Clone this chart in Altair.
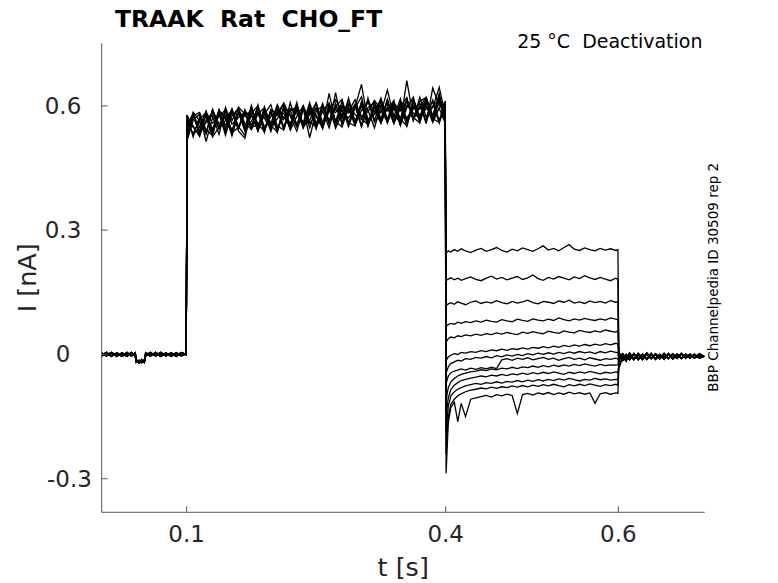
import altair as alt
import pandas as pd

# ---------------- data (currents in pA) ----------------
t_pre = [0.0015, 0.007, 0.013, 0.019, 0.025, 0.031, 0.036, 0.0405, 0.0415, 0.045, 0.048,
         0.051, 0.0525, 0.058, 0.064, 0.070, 0.076, 0.082, 0.088, 0.094, 0.0995]
pre_a = [4, -4, 3, -5, 4, -3, 5, -4, -16, -21, -13, -19, -4, 4, -3, 5, -4, 3, -5, 4, 0]
pre_b = [-4, 3, -5, 4, -3, 5, -4, 3, -12, -18, -15, -20, 3, -4, 5, -3, 4, -5, 3, -4, 2]
pre_c = [3, -2, 5, -3, 2, -5, 4, -2, -19, -14, -20, -13, -2, 5, -4, 2, -3, 4, -2, 5, -1]
pre_d = [-2, 5, -3, 2, -5, 3, -3, 4, -14, -20, -12, -17, 4, -2, 3, -5, 2, -3, 4, -2, 1]

t_step = [0.1005, 0.1075, 0.115, 0.1225, 0.130, 0.1375, 0.145, 0.1525, 0.160, 0.1675,
          0.175, 0.1825, 0.190, 0.1975, 0.205, 0.2125, 0.220, 0.2275, 0.235, 0.2425,
          0.250, 0.2575, 0.265, 0.2725, 0.280, 0.2875, 0.295, 0.3025, 0.310, 0.3175,
          0.325, 0.3325, 0.340, 0.3475, 0.355, 0.3625, 0.370, 0.3775, 0.385, 0.3925, 0.3995]
step_1 = [578, 525, 574, 536, 592, 545, 589, 528, 584, 539,
          596, 549, 592, 538, 587, 545, 608, 554, 597, 547,
          596, 545, 606, 562, 611, 557, 603, 553, 619, 565,
          610, 558, 603, 553, 617, 567, 621, 572, 614, 564, 612]
step_2 = [528, 578, 539, 587, 532, 581, 529, 588, 547, 591,
          547, 602, 541, 586, 538, 596, 554, 605, 548, 589,
          544, 599, 560, 606, 555, 619, 562, 607, 551, 599,
          560, 616, 564, 605, 551, 614, 574, 619, 569, 623, 566]
step_3 = [568, 531, 548, 586, 536, 589, 567, 531, 584, 548,
          601, 542, 578, 549, 596, 543, 588, 597, 551, 564,
          607, 551, 630, 560, 599, 550, 596, 652, 562, 588,
          558, 611, 574, 617, 562, 609, 560, 616, 575, 630, 568]
step_4 = [521, 576, 584, 541, 529, 586, 552, 593, 539, 522,
          594, 556, 539, 590, 577, 603, 548, 590, 559, 608,
          558, 589, 547, 603, 570, 615, 560, 601, 554, 609,
          569, 615, 562, 598, 620, 564, 611, 620, 571, 614, 560]
step_5 = [574, 552, 526, 581, 537, 591, 536, 576, 594, 541,
          578, 540, 598, 553, 537, 597, 579, 551, 600, 562,
          549, 604, 562, 598, 616, 559, 552, 610, 568, 579,
          619, 566, 594, 559, 661, 572, 559, 612, 578, 617, 565]
step_6 = [516, 566, 580, 514, 571, 548, 588, 565, 595, 557,
          543, 581, 595, 557, 603, 567, 589, 549, 594, 523,
          587, 600, 565, 592, 574, 605, 579, 567, 611, 587,
          602, 569, 607, 588, 613, 582, 570, 607, 595, 645, 580]
step_7 = [560, 578, 530, 565, 584, 545, 565, 592, 550, 529,
          582, 600, 548, 574, 593, 549, 590, 596, 546, 581,
          607, 560, 593, 550, 598, 586, 615, 569, 555, 598,
          583, 638, 575, 562, 601, 615, 575, 600, 564, 596, 608]
step_8 = [542, 585, 563, 531, 590, 556, 577, 532, 581, 574,
          591, 539, 580, 603, 551, 542, 594, 582, 550, 599,
          546, 588, 607, 563, 549, 596, 558, 603, 590, 547,
          600, 588, 613, 555, 597, 594, 604, 557, 643, 601, 595]
step_9 = [561, 532, 567, 585, 558, 574, 591, 535, 548, 587,
          573, 583, 538, 591, 581, 607, 575, 539, 590, 578,
          594, 552, 586, 615, 588, 555, 601, 549, 596, 609,
          559, 594, 606, 568, 552, 600, 592, 614, 569, 560, 597]
step_10 = [535, 576, 550, 582, 538, 586, 543, 586, 545, 582,
           543, 587, 540, 589, 536, 599, 552, 608, 549, 590,
           551, 605, 556, 632, 558, 598, 556, 606, 552, 595,
           611, 561, 606, 569, 612, 566, 598, 621, 568, 609, 572]
step_11 = [577, 548, 531, 579, 543, 590, 570, 542, 582, 556,
           562, 595, 536, 586, 546, 574, 556, 591, 550, 597,
           574, 546, 599, 562, 590, 583, 603, 575, 586, 613,
           592, 560, 600, 553, 596, 621, 566, 602, 560, 594, 558]
step_12 = [519, 567, 558, 574, 525, 549, 577, 533, 597, 580,
           554, 583, 571, 542, 586, 582, 545, 600, 555, 602,
           553, 588, 604, 546, 582, 571, 594, 622, 557, 597,
           566, 596, 558, 594, 571, 592, 607, 563, 600, 615, 571]
step_13 = [550, 579, 535, 560, 577, 531, 596, 556, 572, 585,
           548, 554, 586, 545, 569, 592, 541, 574, 600, 557,
           578, 549, 592, 584, 601, 593, 553, 589, 612, 560,
           588, 603, 557, 609, 564, 598, 575, 593, 609, 558, 604]

t_tail = [0.4005, 0.403, 0.406, 0.410, 0.414, 0.418, 0.423, 0.429, 0.435, 0.441, 0.447,
          0.453, 0.459, 0.465, 0.471, 0.477, 0.483, 0.489, 0.495, 0.501, 0.507, 0.513,
          0.519, 0.525, 0.531, 0.537, 0.543, 0.549, 0.555, 0.561, 0.567, 0.573, 0.579,
          0.585, 0.591, 0.597, 0.5995]
tail_1 = [245, 250, 247, 253, 249, 255, 250, 246, 252, 256, 249, 253, 258, 251, 247, 254, 250,
          257, 253, 249, 255, 262, 252, 256, 250, 258, 265, 254, 251, 257, 253, 250, 256, 252,
          255, 251, 253]
tail_2 = [178, 182, 185, 180, 184, 179, 183, 187, 181, 178, 184, 189, 182, 186, 180, 184, 188,
          181, 185, 192, 183, 179, 186, 182, 188, 184, 180, 187, 183, 190, 185, 181, 186, 182,
          178, 184, 181]
tail_3 = [118, 122, 125, 121, 127, 124, 120, 126, 129, 123, 127, 124, 130, 125, 122, 128, 124,
          127, 131, 125, 122, 128, 126, 123, 129, 126, 131, 124, 127, 123, 129, 125, 128, 124,
          130, 126, 127]
tail_4 = [68, 72, 75, 73, 78, 75, 79, 77, 81, 78, 83, 80, 78, 84, 81, 79, 85, 82, 80, 86, 83,
          81, 85, 82, 88, 84, 81, 86, 83, 87, 84, 82, 86, 83, 88, 85, 84]
tail_5 = [30, 38, 42, 40, 45, 43, 47, 45, 49, 46, 50, 48, 52, 49, 53, 50, 48, 54, 51, 55, 52,
          50, 56, 53, 51, 57, 54, 52, 58, 55, 53, 57, 54, 59, 56, 54, 57]
tail_6 = [-15, -6, -2, 2, 0, 5, 3, 7, 5, 9, 7, 11, 9, 13, 10, 14, 12, 16, 13, 17, 15, 19, 16,
          20, 17, 22, 19, 23, 20, 24, 21, 25, 22, 26, 23, 27, 25]
tail_7 = [-45, -30, -22, -18, -14, -16, -10, -12, -7, -9, -5, -8, -3, -6, -1, -4, 0, -3, 2, -1,
          3, 0, 4, 1, 5, 2, 6, 3, 7, 4, 6, 2, 7, 4, 8, 5, 5]
tail_8 = [-70, -52, -44, -40, -38, -35, -38, -33, -36, -32, -35, -31, -34, -13, -10, -14, -9,
          -12, -8, -13, -10, -7, -12, -9, -14, -10, -7, -12, -9, -13, -8, -11, -14, -10, -12,
          -9, -11]
tail_9 = [-110, -80, -66, -58, -52, -48, -45, -42, -40, -37, -39, -35, -37, -33, -35, -31, -34,
          -30, -32, -28, -31, -27, -30, -26, -29, -25, -28, -24, -27, -23, -26, -28, -24, -27,
          -25, -26, -25]
tail_10 = [-150, -105, -85, -74, -68, -63, -60, -57, -55, -52, -54, -50, -52, -48, -51, -47,
           -49, -45, -48, -44, -47, -43, -46, -42, -45, -48, -43, -46, -42, -45, -41, -44, -47,
           -43, -45, -42, -44]
tail_11 = [-190, -125, -100, -90, -84, -80, -76, -73, -70, -72, -68, -70, -66, -69, -65, -67,
           -63, -66, -62, -65, -61, -64, -60, -63, -59, -62, -58, -61, -64, -60, -62, -58, -61,
           -59, -62, -60, -61]
tail_12 = [-240, -150, -120, -108, -100, -95, -90, -86, -84, -81, -83, -79, -82, -78, -80, -76,
           -79, -75, -78, -74, -77, -73, -76, -72, -75, -78, -73, -76, -72, -75, -71, -74, -77,
           -73, -75, -72, -74]
tail_13 = [-287, -165, -128, -115, -162, -118, -150, -108, -105, -102, -99, -103, -97, -100,
           -96, -99, -143, -97, -94, -98, -93, -96, -92, -97, -93, -96, -91, -95, -92, -96, -93,
           -118, -95, -92, -96, -93, -94]

t_post = [0.6005, 0.602, 0.605, 0.609, 0.613, 0.618, 0.623, 0.628, 0.633, 0.638, 0.643,
          0.648, 0.653, 0.658, 0.663, 0.668, 0.673, 0.678, 0.683, 0.688, 0.694, 0.6995]
post_a = [8, -6, 2, -9, 4, -10, 3, -8, 4, -9, 2, -7, 3, -9, 2, -8, 3, -7, 1, -8, 2, -5]
post_b = [-3, 1, -12, 0, -11, 2, -13, 1, -10, 3, -11, 0, -12, 2, -9, 1, -10, 0, -9, 1, -8, -4]
post_c = [-12, -3, -14, -1, -12, 2, -11, -1, -12, 1, -10, 0, -11, 2, -9, 0, -10, 1, -8, 0,
          -9, -4]
post_d = [-28, -20, -4, -14, 0, -12, -2, -13, 1, -10, -1, -11, 2, -9, -1, -10, 1, -8, 0, -9,
          -3, -5]
post_e = [-18, -5, -15, -2, -13, 1, -12, -3, -11, 0, -12, -1, -10, 1, -11, -2, -9, 0, -9, -1,
          -8, -4]
post_f = [-35, -26, -6, -17, -2, -14, -1, -12, 0, -11, 1, -10, -2, -11, 1, -9, 0, -10, -1, -8,
          -2, -5]

steps = [step_1, step_2, step_3, step_4, step_5, step_6, step_7, step_8, step_9, step_10,
         step_11, step_12, step_13]
tails = [tail_1, tail_2, tail_3, tail_4, tail_5, tail_6, tail_7, tail_8, tail_9, tail_10,
         tail_11, tail_12, tail_13]
pre_of_sweep = [pre_a, pre_b, pre_c, pre_d, pre_a, pre_b, pre_c, pre_d, pre_a, pre_b, pre_c,
                pre_d, pre_a]
post_of_sweep = [post_a, post_b, post_a, post_b, post_c, post_c, post_e, post_e, post_c,
                 post_d, post_e, post_d, post_f]

x_tick_values = [0.1, 0.4, 0.6]
x_tick_labels = ["0.1", "0.4", "0.6"]
y_tick_values = [-0.3, 0.0, 0.3, 0.6]
y_tick_labels = ["-0.3", "0", "0.3", "0.6"]

title_text = "TRAAK\u00a0 Rat\u00a0 CHO_FT"
cond_text = "25 \u00b0C\u00a0 Deactivation"
side_text = "BBP Channelpedia ID 30509 rep 2"
x_title = "t [s]"
y_title = "I [nA]"

# ---------------- assemble ----------------
rows = []
ts_all = t_pre + t_step + t_tail + t_post
for i in range(len(steps)):
    vs = pre_of_sweep[i] + steps[i] + tails[i] + post_of_sweep[i]
    assert len(vs) == len(ts_all), (i, len(vs), len(ts_all))
    for j, (t, v) in enumerate(zip(ts_all, vs)):
        rows.append({"sweep": i, "idx": j, "t": t, "I": v / 1000.0})
df = pd.DataFrame(rows)

W, H = 603, 469
FONT = "DejaVu Sans"
TXT = "#262626"
AXC = "#555555"

x_scale = alt.Scale(domain=[0.0016, 0.70], nice=False, zero=False)
y_scale = alt.Scale(domain=[-0.381, 0.751], nice=False, zero=False)

lines = alt.Chart(df).mark_line(color="black", strokeWidth=1.3, clip=True).encode(
    x=alt.X("t:Q", scale=x_scale, axis=None),
    y=alt.Y("I:Q", scale=y_scale, axis=None),
    detail="sweep:N",
    order="idx:Q",
)

xdf = pd.DataFrame({"tx": x_tick_values, "lab": x_tick_labels})
ydf = pd.DataFrame({"ty": y_tick_values, "lab": y_tick_labels})

xaxis_line = alt.Chart(pd.DataFrame({"a": [0]})).mark_rule(color=AXC, strokeWidth=1).encode(
    x=alt.value(0), x2=alt.value(W), y=alt.value(H))
yaxis_line = alt.Chart(pd.DataFrame({"a": [0]})).mark_rule(color=AXC, strokeWidth=1).encode(
    x=alt.value(0), y=alt.value(0), y2=alt.value(H))

xticks = alt.Chart(xdf).mark_rule(color=AXC, strokeWidth=1).encode(
    x=alt.X("tx:Q", scale=x_scale, axis=None),
    y=alt.value(H), y2=alt.value(H - 6),
)
yticks = alt.Chart(ydf).mark_rule(color=AXC, strokeWidth=1).encode(
    y=alt.Y("ty:Q", scale=y_scale, axis=None),
    x=alt.value(0), x2=alt.value(6),
)
xlabels = alt.Chart(xdf).mark_text(
    font=FONT, fontSize=23, color=TXT, align="center", baseline="alphabetic").encode(
    x=alt.X("tx:Q", scale=x_scale, axis=None), y=alt.value(H + 30), text="lab:N")
ylabels_pos = alt.Chart(ydf).transform_filter("datum.ty >= 0").mark_text(
    font=FONT, fontSize=23, color=TXT, align="center", baseline="alphabetic", dy=8).encode(
    y=alt.Y("ty:Q", scale=y_scale, axis=None), x=alt.value(-38.7), text="lab:N")
ylabels_neg = alt.Chart(ydf).transform_filter("datum.ty < 0").mark_text(
    font=FONT, fontSize=23, color=TXT, align="center", baseline="alphabetic", dy=8,
    dx=6.5).encode(
    y=alt.Y("ty:Q", scale=y_scale, axis=None), x=alt.value(-38.7), text="lab:N")

xtitle_mark = alt.Chart(pd.DataFrame({"s": [x_title]})).mark_text(
    font=FONT, fontSize=25.5, color=TXT, align="center", baseline="alphabetic").encode(
    x=alt.value(W / 2), y=alt.value(532.5), text="s:N")
ytitle_mark = alt.Chart(pd.DataFrame({"s": [y_title]})).mark_text(
    font=FONT, fontSize=25.5, color=TXT, align="center", baseline="alphabetic",
    angle=270).encode(x=alt.value(-65.8), y=alt.value(H / 2), text="s:N")

title_mark = alt.Chart(pd.DataFrame({"s": [title_text]})).mark_text(
    font=FONT, fontSize=23.5, fontWeight="bold", align="left", baseline="alphabetic",
    color="black").encode(x=alt.value(13.3), y=alt.value(-16.3), text="s:N")
cond_mark = alt.Chart(pd.DataFrame({"s": [cond_text]})).mark_text(
    font=FONT, fontSize=19, align="right", baseline="alphabetic",
    color="black").encode(x=alt.value(600.8), y=alt.value(5.0), text="s:N")
side_mark = alt.Chart(pd.DataFrame({"s": [side_text]})).mark_text(
    font=FONT, fontSize=13.5, align="center", baseline="alphabetic", angle=270,
    color="black").encode(x=alt.value(616.8), y=alt.value(234.0), text="s:N")

chart = alt.layer(
    lines, xaxis_line, yaxis_line, xticks, yticks, xlabels, ylabels_pos, ylabels_neg,
    xtitle_mark, ytitle_mark, title_mark, cond_mark, side_mark,
).properties(
    width=W, height=H,
    autosize=alt.AutoSizeParams(type="none"),
    padding={"left": 93.7, "top": 35.3, "right": 50, "bottom": 68},
    background="white",
).configure_view(stroke=None)

chart.save("out.html", embed_options={"renderer": "svg", "actions": False})
